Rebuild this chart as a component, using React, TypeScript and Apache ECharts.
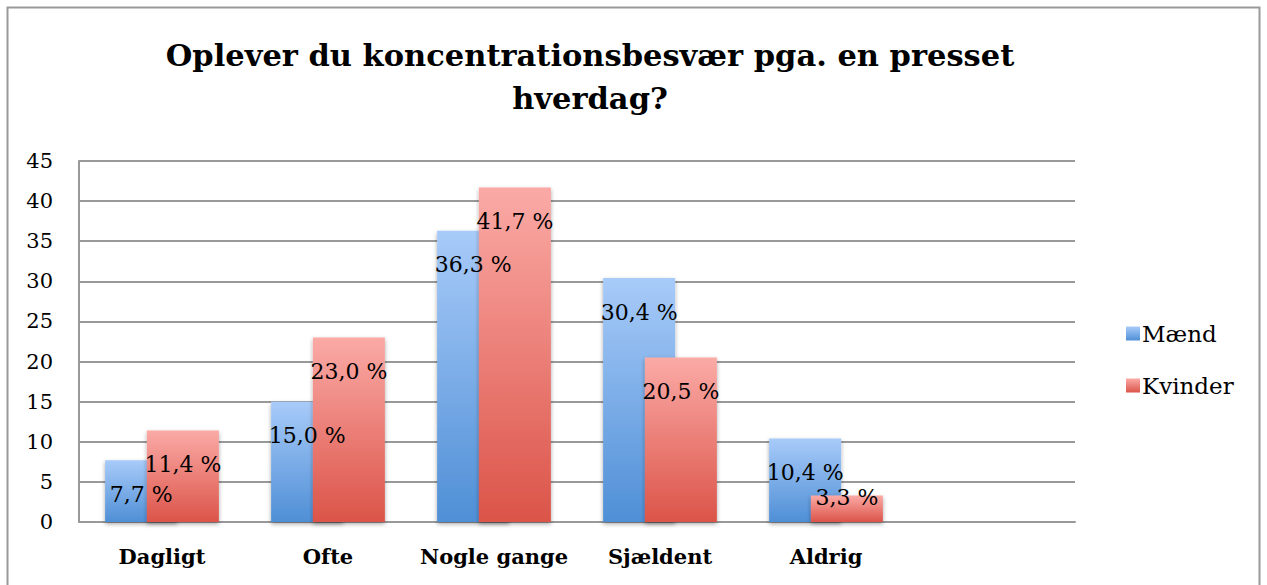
import React, { useEffect, useRef } from "react";
import * as echarts from "echarts";

const categories = ["Dagligt", "Ofte", "Nogle gange", "Sjældent", "Aldrig", ""];
const maendValues: (number | null)[] = [7.7, 15.0, 36.3, 30.4, 10.4, null];
const kvinderValues: (number | null)[] = [11.4, 23.0, 41.7, 20.5, 3.3, null];
const yTicks = [0, 5, 10, 15, 20, 25, 30, 35, 40, 45];
const seriesNames = ["Mænd", "Kvinder"];
const titleText = "Oplever du koncentrationsbesvær pga. en presset\nhverdag?";

const FONT = "'DejaVu Serif', 'Liberation Serif', serif";

const fmt = (v: number) => v.toFixed(1).replace(".", ",") + " %";

export default function App() {
  const ref = useRef<HTMLDivElement>(null);
  useEffect(() => {
    if (!ref.current) return;
    const chart = echarts.init(ref.current, null, { renderer: "svg" });
    const blue = new echarts.graphic.LinearGradient(0, 0, 0, 1, [
      { offset: 0, color: "#a8cbf9" },
      { offset: 1, color: "#4f8fd6" },
    ]);
    const red = new echarts.graphic.LinearGradient(0, 0, 0, 1, [
      { offset: 0, color: "#fbaaa6" },
      { offset: 1, color: "#db5449" },
    ]);
    const labelBase = {
      show: true,
      position: "insideTop",
      distance: 23,
      color: "#000",
      fontFamily: FONT,
      fontSize: 22,
      formatter: (p: any) => (p.value == null ? "" : fmt(p.value)),
    };
    const mkData = (arr: (number | null)[]) =>
      arr.map((v) => {
        if (v == null) return null;
        if (v < 5)
          return {
            value: v,
            label: { position: "insideBottom", distance: 14 },
          };
        return v;
      });
    const shadow = {
      shadowBlur: 4,
      shadowColor: "rgba(0,0,0,0.35)",
      shadowOffsetY: 2,
    };
    chart.setOption({
      animation: false,
      backgroundColor: "#fff",
      title: {
        text: titleText,
        left: 585,
        top: 28,
        textAlign: "center",
        textStyle: {
          fontFamily: FONT,
          fontWeight: "bold",
          fontSize: 30.5,
          lineHeight: 43,
          color: "#000",
        },
      },
      graphic: [
        {
          type: "rect",
          shape: { x: 7.5, y: 7.5, width: 1252, height: 620 },
          style: { fill: "none", stroke: "#999", lineWidth: 2 },
          silent: true,
        },
      ],
      legend: {
        orient: "vertical",
        left: 1121,
        top: 317,
        itemWidth: 14,
        itemHeight: 14,
        itemGap: 29,
        icon: "rect",
        textStyle: { fontFamily: FONT, fontSize: 23, color: "#000", padding: [0, 0, 0, -3] },
        data: seriesNames,
      },
      grid: { left: 79, right: 192, top: 161, bottom: 63, containLabel: false },
      xAxis: {
        type: "category",
        data: categories,
        axisLine: { show: true, lineStyle: { color: "#999", width: 2 } },
        axisTick: { show: false },
        axisLabel: {
          interval: 0,
          fontFamily: FONT,
          fontWeight: "bold",
          fontSize: 21,
          color: "#000",
          margin: 24,
        },
      },
      yAxis: {
        type: "value",
        min: yTicks[0],
        max: yTicks[yTicks.length - 1],
        interval: 5,
        axisLine: { show: true, lineStyle: { color: "#999", width: 2 } },
        axisTick: { show: false },
        splitLine: { lineStyle: { color: "#999", width: 2 } },
        axisLabel: {
          fontFamily: FONT,
          fontSize: 21,
          color: "#000",
          margin: 26,
        },
      },
      series: [
        {
          name: seriesNames[0],
          type: "bar",
          data: mkData(maendValues),
          barWidth: 72,
          barGap: "-42%",
          itemStyle: { color: blue, ...shadow },
          label: labelBase,
        },
        {
          name: seriesNames[1],
          type: "bar",
          data: mkData(kvinderValues),
          barWidth: 72,
          itemStyle: { color: red, ...shadow },
          label: labelBase,
        },
      ],
    });
    return () => chart.dispose();
  }, []);
  return (
    <div
      ref={ref}
      style={{ position: "fixed", left: 0, top: 0, width: 1267, height: 585 }}
    />
  );
}
